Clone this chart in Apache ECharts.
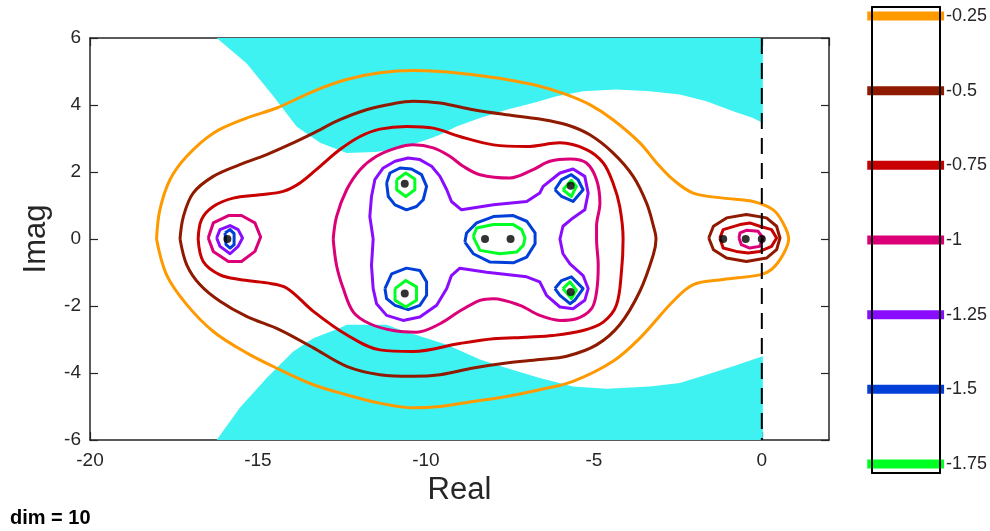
<!DOCTYPE html>
<html>
<head>
<meta charset="utf-8">
<script src="https://cdn.jsdelivr.net/npm/echarts@6/dist/echarts.min.js"></script>
<style>
html, body { margin: 0; padding: 0; background: #fff; }
#box { width: 990px; height: 531px; }
</style>
</head>
<body>
<div id="box"></div>
<script>
// contour levels (log10 eps) and their colours
const levels = [-0.25, -0.5, -0.75, -1, -1.25, -1.5, -1.75];
const levelColors = ['#ff9900', '#8f1a00', '#c80000', '#dc0078', '#8a0cff', '#0040d8', '#00ff22'];

// eigenvalues
const eigRe = [-15.91, -10.63, -10.63, -8.24, -7.48, -5.69, -5.69, -1.15, -0.48, 0.0];
const eigIm = [0, 1.65, -1.63, 0, 0, 1.59, -1.58, 0, 0, 0];

// cyan region borders
const cyanTop = [[-16.23, 6], [-15.34, 5.25], [-14.54, 4.26], [-13.85, 3.36], [-13.15, 2.87], [-12.36, 2.57],
  [-11.5, 2.6], [-10.77, 2.7], [-9.98, 2.96], [-9.58, 3.11], [-9.09, 3.36], [-8.39, 3.61], [-7.6, 3.86],
  [-6.81, 4.06], [-6.11, 4.26], [-5.32, 4.41], [-4.33, 4.46], [-3.33, 4.41], [-2.44, 4.31], [-1.65, 4.11],
  [-0.85, 3.81], [-0.26, 3.61], [0.03, 3.46]];
const cyanBottom = [[-16.23, -6], [-15.54, -5.04], [-14.74, -4.15], [-13.95, -3.36], [-13.35, -2.96], [-12.56, -2.66],
  [-12.36, -2.56], [-11.17, -2.56], [-10.77, -2.71], [-9.98, -2.96], [-9.38, -3.16], [-8.99, -3.33], [-8.39, -3.6],
  [-7.6, -3.85], [-6.61, -4.15], [-5.62, -4.4], [-4.62, -4.47], [-3.33, -4.4], [-2.44, -4.3], [-1.65, -4.05],
  [-0.85, -3.8], [-0.26, -3.6], [0.03, -3.5]];

// level -0.25
const orangeOuter = [[-18.02, 0], [-17.92, 0.87], [-17.62, 1.77], [-17.12, 2.47], [-16.33, 3.16], [-15.34, 3.61],
  [-14.44, 3.91], [-13.35, 4.41], [-12.36, 4.76], [-11.37, 4.96], [-10.38, 5.03], [-9.58, 5.0], [-8.59, 4.9],
  [-7.6, 4.76], [-6.61, 4.56], [-5.81, 4.31], [-5.12, 4.01], [-4.43, 3.56], [-3.63, 2.87], [-3.13, 2.27],
  [-2.64, 1.77], [-2.04, 1.37], [-1.15, 1.22], [-0.26, 1.12], [0.34, 0.87], [0.63, 0.48], [0.8, 0],
  [0.63, -0.47], [0.3, -0.9], [-0.06, -1.07], [-1.15, -1.21], [-2.04, -1.36], [-2.64, -1.86], [-3.63, -2.96],
  [-4.43, -3.65], [-5.62, -4.25], [-6.61, -4.5], [-7.6, -4.7], [-8.59, -4.85], [-9.58, -5.0], [-10.38, -5.04],
  [-11.37, -4.9], [-12.36, -4.65], [-13.35, -4.35], [-14.35, -3.9], [-15.34, -3.4], [-16.33, -2.76],
  [-17.12, -1.96], [-17.72, -1.07], [-18.02, 0]];

// level -0.5
const brownMain = [[-17.32, 0], [-17.22, 0.67], [-16.93, 1.37], [-16.33, 1.87], [-15.54, 2.22], [-14.74, 2.52],
  [-13.95, 2.87], [-13.35, 3.16], [-12.56, 3.56], [-11.77, 3.86], [-10.97, 4.04], [-10.38, 4.11], [-9.58, 4.06],
  [-8.59, 3.86], [-7.6, 3.71], [-6.61, 3.58], [-5.81, 3.41], [-5.12, 3.11], [-4.43, 2.57], [-3.83, 1.87],
  [-3.43, 1.07], [-3.23, 0.4], [-3.15, 0], [-3.23, -0.47], [-3.63, -1.56], [-4.23, -2.56], [-4.92, -3.16],
  [-5.81, -3.5], [-6.61, -3.6], [-7.6, -3.7], [-8.59, -3.85], [-9.58, -4.05], [-10.38, -4.1], [-11.37, -4.05],
  [-12.36, -3.8], [-13.35, -3.25], [-14.35, -2.71], [-15.34, -2.31], [-16.13, -1.86], [-16.73, -1.36],
  [-17.12, -0.77], [-17.32, 0]];
const brownTrio = [[-1.58, 0.03], [-1.44, 0.38], [-1.05, 0.63], [-0.46, 0.73], [0.14, 0.63], [0.44, 0.38],
  [0.54, 0.03], [0.44, -0.32], [0.14, -0.57], [-0.46, -0.67], [-1.05, -0.57], [-1.44, -0.32], [-1.58, 0.03]];

// level -0.75
const redMain = [[-16.78, 0], [-16.68, 0.58], [-16.33, 0.97], [-15.74, 1.22], [-14.94, 1.32], [-14.25, 1.42],
  [-13.75, 1.67], [-13.15, 2.17], [-12.56, 2.67], [-11.96, 3.06], [-11.37, 3.28], [-10.57, 3.36], [-9.78, 3.31],
  [-8.99, 3.06], [-7.99, 2.81], [-7.0, 2.76], [-6.01, 2.87], [-5.22, 2.67], [-4.72, 2.27], [-4.43, 1.67],
  [-4.23, 0.97], [-4.13, 0], [-4.18, -0.99], [-4.33, -1.98], [-4.72, -2.48], [-5.32, -2.73], [-6.21, -2.88],
  [-7.0, -2.93], [-7.99, -2.98], [-8.99, -3.12], [-10.38, -3.36], [-11.37, -3.31], [-12.36, -2.86],
  [-13.35, -2.16], [-14.15, -1.46], [-14.74, -1.31], [-15.54, -1.21], [-16.13, -1.07], [-16.63, -0.67], [-16.78, 0]];
const redTrio = [[-1.25, 0.03], [-1.15, 0.28], [-0.65, 0.43], [-0.36, 0.48], [-0.06, 0.38], [0.29, 0.28],
  [0.44, 0.03], [0.29, -0.22], [-0.06, -0.37], [-0.41, -0.42], [-0.76, -0.37], [-1.15, -0.27], [-1.25, 0.03]];

// level -1
const magentaMain = [[-12.76, 0], [-12.66, 0.67], [-12.36, 1.47], [-11.96, 2.07], [-11.47, 2.47], [-10.87, 2.72],
  [-10.38, 2.81], [-9.78, 2.72], [-9.29, 2.47], [-8.89, 2.17], [-8.39, 1.92], [-7.5, 1.82], [-6.81, 2.07],
  [-6.31, 2.32], [-5.71, 2.39], [-5.22, 2.27], [-4.92, 1.77], [-4.82, 1.07], [-4.92, 0.38], [-4.92, 0],
  [-4.87, -0.79], [-4.92, -1.58], [-5.07, -2.08], [-5.52, -2.38], [-6.01, -2.43], [-6.61, -2.28], [-7.2, -1.98],
  [-7.99, -1.78], [-8.39, -1.83], [-8.99, -2.15], [-9.58, -2.53], [-10.28, -2.78], [-10.97, -2.73],
  [-11.67, -2.53], [-12.16, -2.18], [-12.46, -1.48], [-12.66, -0.79], [-12.76, 0]];
const magentaLeft = [[-16.48, 0.03], [-16.33, 0.48], [-15.88, 0.7], [-15.49, 0.7], [-15.09, 0.48], [-14.92, 0.06],
  [-15.09, -0.37], [-15.49, -0.67], [-15.88, -0.67], [-16.33, -0.37], [-16.48, 0.03]];
const magentaPair = [[-0.68, 0.03], [-0.65, 0.18], [-0.46, 0.26], [-0.11, 0.23], [0.04, 0.03], [-0.06, -0.22],
  [-0.36, -0.27], [-0.61, -0.17], [-0.68, 0.03]];

// level -1.25
const purpleMain = [[-11.57, 0], [-11.67, 0.67], [-11.62, 1.27], [-11.52, 1.77], [-11.27, 2.12], [-10.92, 2.32],
  [-10.53, 2.42], [-10.18, 2.37], [-9.83, 2.17], [-9.58, 1.87], [-9.38, 1.47], [-9.24, 1.12], [-8.94, 0.87],
  [-7.99, 1.02], [-7.0, 1.12], [-6.61, 1.37], [-6.51, 1.57], [-6.01, 1.97], [-5.62, 2.09], [-5.27, 1.87],
  [-5.17, 1.37], [-5.27, 0.87], [-5.62, 0.63], [-5.92, 0.38], [-6.01, 0], [-5.92, -0.44], [-5.71, -0.74],
  [-5.32, -1.09], [-5.17, -1.48], [-5.27, -1.83], [-5.62, -2.08], [-6.01, -2.03], [-6.41, -1.68], [-6.61, -1.28],
  [-7.0, -1.13], [-8.19, -0.99], [-8.99, -0.87], [-9.24, -1.09], [-9.38, -1.48], [-9.68, -1.98], [-10.18, -2.33],
  [-10.68, -2.43], [-11.17, -2.28], [-11.47, -1.93], [-11.57, -1.48], [-11.62, -0.79], [-11.57, 0]];
const purpleLeft = [[-16.23, 0.03], [-16.13, 0.28], [-15.83, 0.4], [-15.59, 0.28], [-15.46, 0.03], [-15.59, -0.22],
  [-15.83, -0.44], [-16.13, -0.22], [-16.23, 0.03]];

// level -1.5
const blueLeft = [[-15.98, 0.18], [-15.83, 0.28], [-15.71, 0.16], [-15.71, -0.17], [-15.83, -0.27], [-15.95, -0.17], [-15.98, 0.18]];
const blueUL = [[-11.17, 1.67], [-11.07, 1.97], [-10.77, 2.12], [-10.43, 2.09], [-10.13, 1.92], [-9.98, 1.57],
  [-10.08, 1.17], [-10.28, 0.97], [-10.58, 0.87], [-10.92, 1.02], [-11.12, 1.27], [-11.17, 1.67]];
const blueLL = [[-11.22, -1.48], [-11.02, -1.04], [-10.58, -0.87], [-10.18, -0.94], [-9.98, -1.28], [-9.98, -1.68],
  [-10.18, -1.98], [-10.53, -2.11], [-10.92, -1.98], [-11.17, -1.78], [-11.22, -1.48]];
const blueMid = [[-8.84, -0.09], [-8.79, 0.18], [-8.49, 0.48], [-7.99, 0.67], [-7.4, 0.7], [-7.0, 0.53], [-6.75, 0.18],
  [-6.75, -0.14], [-7.0, -0.54], [-7.4, -0.71], [-8.09, -0.69], [-8.59, -0.44], [-8.84, -0.09]];
const blueUR = [[-6.16, 1.47], [-5.96, 1.77], [-5.67, 1.92], [-5.47, 1.77], [-5.32, 1.47], [-5.62, 1.12], [-5.96, 1.27], [-6.16, 1.47]];
const blueLR = [[-6.16, -1.48], [-5.96, -1.24], [-5.67, -1.13], [-5.32, -1.48], [-5.57, -1.83], [-5.71, -1.93], [-6.01, -1.68], [-6.16, -1.48]];

// level -1.75
const greenUL = [[-10.87, 1.77], [-10.6, 1.97], [-10.33, 1.79], [-10.33, 1.47], [-10.6, 1.27], [-10.87, 1.47], [-10.87, 1.77]];
const greenLL = [[-10.92, -1.48], [-10.6, -1.24], [-10.28, -1.43], [-10.28, -1.83], [-10.6, -2.03], [-10.92, -1.83], [-10.92, -1.48]];
const greenMid = [[-8.59, 0.08], [-8.49, 0.33], [-7.99, 0.43], [-7.4, 0.43], [-7.15, 0.28], [-7.05, 0.03], [-7.1, -0.19],
  [-7.3, -0.39], [-7.8, -0.44], [-8.39, -0.34], [-8.54, -0.04], [-8.59, 0.08]];
const greenUR = [[-5.92, 1.47], [-5.67, 1.75], [-5.52, 1.57], [-5.67, 1.27], [-5.92, 1.47]];
const greenLR = [[-5.92, -1.48], [-5.71, -1.28], [-5.52, -1.53], [-5.67, -1.78], [-5.92, -1.48]];

// [points, level index, smooth]
const contours = [
  [orangeOuter, 0, true],
  [brownMain, 1, true], [brownTrio, 1, false],
  [redMain, 2, true], [redTrio, 2, false],
  [magentaMain, 3, true], [magentaLeft, 3, false], [magentaPair, 3, false],
  [purpleMain, 4, false], [purpleLeft, 4, false],
  [blueLeft, 5, false], [blueUL, 5, false], [blueLL, 5, false], [blueMid, 5, false], [blueUR, 5, false], [blueLR, 5, false],
  [greenUL, 6, false], [greenLL, 6, false], [greenMid, 6, false], [greenUR, 6, false], [greenLR, 6, false]
];

var myChart = echarts.init(document.getElementById('box'));

const fontFam = '"Liberation Sans", Arial, Helvetica, sans-serif';
const axisCol = '#262626';

var series = [];

// 伪谱阴影区域
series.push({
  type: 'line', xAxisIndex: 0, yAxisIndex: 0, data: cyanTop, showSymbol: false, symbol: 'none',
  lineStyle: { width: 0 }, areaStyle: { color: '#3ff2f2', opacity: 1, origin: 'end' }, z: 1
});
series.push({
  type: 'line', xAxisIndex: 0, yAxisIndex: 0, data: cyanBottom, showSymbol: false, symbol: 'none',
  lineStyle: { width: 0 }, areaStyle: { color: '#3ff2f2', opacity: 1, origin: 'start' }, z: 1
});

// 等高线
contours.forEach(function (c) {
  series.push({
    type: 'line', xAxisIndex: 0, yAxisIndex: 0, data: c[0], showSymbol: false, symbol: 'none',
    smooth: c[2] ? 0.35 : false,
    lineStyle: { color: levelColors[c[1]], width: 3, join: 'round' }, z: 3
  });
});

// imaginary axis
series.push({
  type: 'line', xAxisIndex: 0, yAxisIndex: 0, data: [[0, 6], [0, -6]], showSymbol: false, symbol: 'none',
  lineStyle: { color: '#000', width: 2, type: [16, 9] }, z: 4
});

// eigenvalues
series.push({
  type: 'scatter', xAxisIndex: 0, yAxisIndex: 0,
  data: eigRe.map(function (v, i) { return [v, eigIm[i]]; }),
  symbol: 'circle', symbolSize: 8, itemStyle: { color: '#000' }, z: 5
});

// colorbar
levels.forEach(function (lv, i) {
  series.push({
    type: 'line', xAxisIndex: 2, yAxisIndex: 2, data: [[-0.07, lv], [1.06, lv]], showSymbol: false, symbol: 'none',
    clip: false,
    lineStyle: { color: levelColors[i], width: 9, cap: 'butt' },
    endLabel: { show: true, formatter: String(lv), color: axisCol, fontSize: 18, fontFamily: fontFam, distance: 2 },
    z: 2
  });
});

var boxAxis = { show: true, onZero: false, lineStyle: { color: '#000', width: 2 } };
var tickIn = { show: true, inside: true, length: 8, lineStyle: { color: axisCol, width: 1.2 } };
var mainLine = { show: true, onZero: false, lineStyle: { color: axisCol, width: 1.5 } };

var option = {
  animation: false,
  backgroundColor: '#fff',
  grid: [
    { left: 90, top: 38, width: 739, height: 402 },
    { left: 872, top: 7, width: 68, height: 466 }
  ],
  xAxis: [
    {
      type: 'value', gridIndex: 0, position: 'bottom', min: -20, max: 2, interval: 5,
      axisLine: mainLine, axisTick: tickIn, splitLine: { show: false },
      axisLabel: { color: axisCol, fontSize: 19, fontFamily: fontFam, margin: 11, showMaxLabel: false },
      name: 'Real', nameLocation: 'middle', nameGap: 34,
      nameTextStyle: { color: axisCol, fontSize: 31, fontFamily: fontFam }
    },
    {
      type: 'value', gridIndex: 0, position: 'top', min: -20, max: 2, interval: 5,
      axisLine: mainLine, axisTick: tickIn, splitLine: { show: false }, axisLabel: { show: false }
    },
    {
      type: 'value', gridIndex: 1, position: 'bottom', min: 0, max: 1,
      axisLine: boxAxis, axisTick: { show: false }, axisLabel: { show: false }, splitLine: { show: false }, z: 10
    },
    {
      type: 'value', gridIndex: 1, position: 'top', min: 0, max: 1,
      axisLine: boxAxis, axisTick: { show: false }, axisLabel: { show: false }, splitLine: { show: false }, z: 10
    }
  ],
  yAxis: [
    {
      type: 'value', gridIndex: 0, position: 'left', min: -6, max: 6, interval: 2,
      axisLine: mainLine, axisTick: tickIn, splitLine: { show: false },
      axisLabel: { color: axisCol, fontSize: 19, fontFamily: fontFam, margin: 9 },
      name: 'Imag', nameLocation: 'middle', nameGap: 38, nameRotate: 90,
      nameTextStyle: { color: axisCol, fontSize: 31, fontFamily: fontFam }
    },
    {
      type: 'value', gridIndex: 0, position: 'right', min: -6, max: 6, interval: 2,
      axisLine: mainLine, axisTick: tickIn, splitLine: { show: false }, axisLabel: { show: false }
    },
    {
      type: 'value', gridIndex: 1, position: 'left', min: -1.78, max: -0.22,
      axisLine: boxAxis, axisTick: { show: false }, axisLabel: { show: false }, splitLine: { show: false }, z: 10
    },
    {
      type: 'value', gridIndex: 1, position: 'right', min: -1.78, max: -0.22,
      axisLine: boxAxis, axisTick: { show: false }, axisLabel: { show: false }, splitLine: { show: false }, z: 10
    }
  ],
  graphic: [
    {
      type: 'text', left: 10, top: 508,
      style: { text: 'dim = 10', fill: '#000', font: 'bold 20px ' + fontFam }
    }
  ],
  series: series
};

myChart.setOption(option);
</script>
</body>
</html>
